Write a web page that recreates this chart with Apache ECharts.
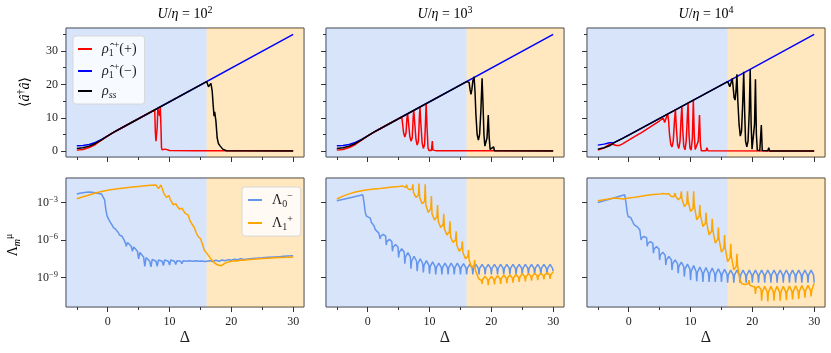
<!DOCTYPE html>
<html lang="en">
<head>
<meta charset="UTF-8">
<title>Kerr resonator populations</title>
<script src="https://cdn.jsdelivr.net/npm/echarts@6/dist/echarts.min.js"></script>
<style>
    * { margin: 0; padding: 0; }
    html, body { width: 831px; height: 353px; background: #fff; overflow: hidden; }
    #main { width: 831px; height: 353px; }
</style>
</head>
<body>
<div id="main"></div>
<script>
// tick values
var xMajor = [0, 10, 20, 30];
var xMinor = [-5, 5, 15, 25];
var nMajor = [0, 10, 20, 30];
var nMinor = [5, 15, 25, 35];
var lamTicks = [-9, -6, -3];          // log10 of the rate
var ratioExp = ['2', '3', '4'];       // U/eta = 10^k
var phaseEdge = 16;

// <a+a>, top row (panels U/eta = 1e2, 1e3, 1e4)
var pumpMinus1 = [[-5,1.6],[-4,1.7],[-3,2.0],[-2,2.6],[-1,3.5],[0,4.6],[1,5.7],[2,6.7],[30,35.0]];
var pumpMinus2 = [[-5,1.6],[-4,1.7],[-3,2.0],[-2,2.6],[-1,3.5],[0,4.6],[1,5.7],[2,6.7],[30,35.0]];
var pumpMinus3 = [[-5,1.8],[-4,2.1],[-3.1,2.5],[-2.3,2.6],[-1,3.8],[0,4.8],[16,20.85],[30,35.0]];

var pumpPlus1 = [[-5,0.3],[-4,0.5],[-3,1.1],[-2,2.0],[-1,3.3],[0,4.6],[1,5.7],[2,6.7],[7.6,12.35],[7.7,6],[7.8,3],[7.9,2.5],
    [8.0,7],[8.1,12.8],[8.3,13.0],[8.4,10.5],[8.5,13.3],[8.6,8],[8.7,1],[8.8,0.4],[9.0,0.3],[9.3,0.6],[9.6,0.3],[10,0.2],[14,0.15],[30,0.1]];
var pumpPlus2 = [[-5,0.3],[-4,0.5],[-3,1.1],[-2,2.0],[-1,3.3],[0,4.6],[1,5.7],[2,6.7],[5.5,10.24],[5.65,8],[5.8,5.5],[6.0,4.2],
    [6.2,5.5],[6.35,10],[6.45,11.2],[6.6,8.5],[6.8,4.5],[7.0,3.0],[7.2,4],[7.35,10],[7.45,12.2],[7.6,8.5],[7.8,3.5],[8.0,1.8],
    [8.2,3],[8.35,10],[8.45,13.2],[8.6,8],[8.8,2.5],[9.0,0.8],[9.2,2],[9.35,9],[9.45,14.2],[9.6,7],[9.75,1],[9.9,0.2],
    [10.3,0.2],[10.45,3.0],[10.55,0.3],[11,0.15],[30,0.1]];
var pumpPlus3 = [[-5,0.3],[-4,0.9],[-3.1,2.1],[-2.5,2.0],[-2,1.7],[-1.5,1.7],[-1,2.2],[0,3.3],[1,4.4],[2,5.5],[3,6.7],[4,7.9],
    [5,9.1],[5.6,9.9],[5.8,8.6],[5.95,8.1],[6.1,8.6],[6.3,11.2],[6.45,9],[6.6,5],[6.8,2],[7.0,1.3],[7.2,3],[7.4,9],[7.55,12.6],
    [7.7,7],[7.9,2],[8.1,0.8],[8.3,3],[8.45,9],[8.6,13.5],[8.75,6],[8.9,1.5],[9.1,0.4],[9.3,3],[9.45,9],[9.6,14.5],[9.75,5],
    [9.9,1],[10.1,0.3],[10.3,4],[10.45,15.4],[10.6,5],[10.75,0.5],[11.0,0.2],[11.25,3],[11.45,10.8],[11.6,2],[11.75,0.1],
    [12.5,0.1],[12.65,1.0],[12.8,0.1],[30,0.05]];

var steady1 = [[-5,0.8],[-4,1.0],[-3,1.5],[-2,2.3],[-1,3.4],[0,4.6],[1,5.7],[2,6.7],[16,20.85],[16.3,19.3],[16.5,19.5],
    [16.7,20.3],[16.9,18],[17.05,14],[17.2,10.5],[17.3,11.8],[17.4,12.0],[17.5,9],[17.7,4],[17.9,2.3],[18.2,1.5],[18.6,0.6],
    [19.2,0.1],[30,0.05]];
var steady2 = [[-5,0.8],[-4,1.0],[-3,1.5],[-2,2.3],[-1,3.4],[0,4.6],[1,5.7],[2,6.7],[16,20.85],[16.2,20.3],[16.4,20.6],
    [16.55,18.5],[16.7,17.0],[16.85,18.5],[17.0,21.0],[17.2,22.3],[17.35,18],[17.5,11],[17.7,5],[17.9,3.3],[18.1,5],[18.3,12],
    [18.5,21.8],[18.65,14],[18.8,5],[18.95,1.5],[19.15,1.2],[19.3,4],[19.5,10.8],[19.65,4],[19.8,0.5],[20.1,0.2],[20.35,1.3],
    [20.5,0.1],[30,0.05]];
var steady3 = [[-5,0.6],[-4,1.0],[-3,1.7],[-2.3,2.6],[-1,3.8],[0,4.8],[16,20.85],[16.2,20.0],[16.35,19.3],[16.55,20.5],
    [16.75,21.8],[16.9,19],[17.05,16],[17.2,15.3],[17.35,18],[17.5,23.0],[17.65,15],[17.85,8],[18.05,4.5],[18.25,6],[18.45,15],
    [18.6,23.8],[18.75,12],[18.9,3],[19.1,1.3],[19.3,3],[19.5,12],[19.65,24.5],[19.8,8],[19.95,0.6],[20.2,0.5],[20.35,8],
    [20.5,21.5],[20.65,5],[20.8,0.3],[21.2,0.2],[21.45,7.8],[21.6,0.2],[22.5,0.1],[22.65,1.0],[22.8,0.05],[30,0.05]];

// log10 of Lambda, bottom row
var lamMinus1 = [[-5,-2.33],[-4.5,-2.27],[-4,-2.22],[-3.5,-2.18],[-3,-2.17],[-2.5,-2.18],[-2,-2.22],[-1.5,-2.28],[-1,-2.33],
    [-0.7,-2.37],[-0.5,-2.8],[-0.3,-3.6],[-0.1,-4.1],[0.1,-4.3],[0.3,-4.5],[0.5,-4.55],[0.7,-4.8],[0.9,-5.0],[1.1,-5.1],
    [1.3,-5.15],[1.5,-5.2],[1.7,-5.4],[1.9,-5.6],[2.1,-5.65],[2.3,-5.7],[2.5,-5.85],[2.7,-6.05],[2.9,-6.3],[3.0,-6.5],
    [3.2,-6.2],[3.5,-6.25],[3.8,-6.5],[4.0,-6.9],[4.2,-6.55],[4.5,-6.65],[4.8,-6.9],[5.0,-7.5],[5.2,-7.0],[5.5,-7.1],
    [5.8,-7.35],[6.0,-8.1],[6.2,-7.4],[6.5,-7.45],[6.8,-7.7],[7.0,-8.15],[7.2,-7.55],[7.5,-7.5],[7.8,-7.7],[8.0,-8.1],
    [8.2,-7.6],[8.5,-7.55],[8.8,-7.7],[9.0,-8.05],[9.2,-7.6],[9.5,-7.55],[9.8,-7.7],[10.0,-8.0],[10.2,-7.6],[10.5,-7.55],
    [10.8,-7.7],[11.0,-7.95],[11.2,-7.65],[11.5,-7.6],[11.8,-7.7],[12.0,-7.9],[12.2,-7.65],[12.5,-7.6],[12.8,-7.7],[13.0,-7.85],
    [13.2,-7.65],[13.5,-7.6],[13.8,-7.7],[14.0,-7.85],[14.2,-7.65],[14.5,-7.62],[14.8,-7.7],[15.0,-7.8],[15.2,-7.67],
    [15.5,-7.65],[15.8,-7.72],[16.0,-7.75],[16.5,-7.65],[17,-7.72],[17.5,-7.62],[18,-7.7],[18.5,-7.6],[19,-7.66],[19.5,-7.57],
    [20,-7.62],[20.5,-7.54],[21,-7.58],[21.5,-7.5],[22,-7.55],[23,-7.5],[24,-7.45],[25,-7.42],[26,-7.38],[27,-7.35],
    [28,-7.32],[29,-7.28],[30,-7.25]];
var lamPlus1 = [[-5,-2.7],[-4,-2.55],[-3,-2.4],[-2,-2.25],[-1,-2.12],[0,-2.02],[1,-1.95],[2,-1.88],[3,-1.82],[4,-1.77],
    [5,-1.72],[6,-1.67],[7,-1.63],[7.8,-1.6],[8.0,-1.65],[8.2,-1.9],[8.4,-2.05],[8.6,-1.6],[8.75,-1.55],[8.9,-2.0],[9.1,-2.3],
    [9.3,-2.45],[9.5,-2.6],[9.7,-2.65],[9.9,-2.45],[10.1,-2.75],[10.4,-3.0],[10.6,-3.2],[10.8,-3.05],[11.0,-3.1],[11.3,-3.35],
    [11.6,-3.55],[11.8,-3.5],[12.0,-3.45],[12.3,-3.7],[12.6,-3.9],[12.8,-3.85],[13.0,-4.0],[13.3,-4.45],[13.6,-4.7],
    [13.8,-4.65],[14.0,-5.0],[14.3,-5.4],[14.6,-5.7],[14.8,-5.65],[15.0,-5.9],[15.3,-6.3],[15.6,-6.8],[15.8,-6.9],[16.0,-7.05],
    [16.3,-7.2],[16.6,-7.45],[16.9,-7.6],[17.2,-7.8],[17.5,-7.9],[17.8,-8.0],[18.1,-7.95],[18.4,-8.05],[18.7,-7.9],[19.0,-7.85],
    [19.5,-7.75],[20,-7.7],[20.5,-7.65],[21,-7.68],[21.5,-7.6],[22,-7.62],[23,-7.55],[24,-7.52],[25,-7.48],[26,-7.45],
    [27,-7.42],[28,-7.4],[29,-7.38],[30,-7.35]];

var lamMinus2 = [[-5,-2.87],[-3,-2.64],[-0.8,-2.39],[-0.6,-3.0],[-0.4,-3.8],[-0.2,-4.1],[0.1,-4.15],[0.4,-4.25],[0.6,-4.6],
    [0.8,-4.75],[1.0,-4.85],[1.2,-5.15],[1.5,-5.2],[1.8,-5.45],
    [2,-5.9],[2.1,-5.69],[2.5,-5.55],[2.9,-5.69],[3,-6.4],[3.1,-6.13],[3.5,-5.95],[3.9,-6.13],
    [4,-6.9],[4.1,-6.57],[4.5,-6.35],[4.9,-6.57],[5,-7.4],[5.1,-6.98],[5.5,-6.7],[5.9,-6.98],
    [6,-7.9],[6.1,-7.36],[6.5,-7.0],[6.9,-7.36],[7,-8.3],[7.1,-7.7],[7.5,-7.3],[7.9,-7.7],
    [8,-8.5],[8.1,-7.9],[8.5,-7.5],[8.9,-7.9],[9,-8.6],[9.1,-8.03],[9.5,-7.65],[9.9,-8.03],
    [10,-8.7],[10.1,-8.13],[10.5,-7.75],[10.9,-8.13],[11,-8.75],[11.1,-8.21],[11.5,-7.85],[11.9,-8.21],
    [12,-8.75],[12.1,-8.21],[12.5,-7.85],[12.9,-8.21],[13,-8.75],[13.1,-8.21],[13.5,-7.85],[13.9,-8.21],
    [14,-8.75],[14.1,-8.21],[14.5,-7.85],[14.9,-8.21],[15,-8.75],[15.1,-8.21],[15.5,-7.88],[15.9,-8.24],
    [16,-8.75],[16.1,-8.27],[16.5,-7.95],[16.9,-8.27],[17,-8.75],[17.1,-8.27],[17.5,-7.95],[17.9,-8.27],
    [18,-8.75],[18.1,-8.27],[18.5,-7.95],[18.9,-8.27],[19,-8.75],[19.1,-8.27],[19.5,-7.95],[19.9,-8.27],
    [20,-8.75],[20.1,-8.27],[20.5,-7.95],[20.9,-8.27],[21,-8.75],[21.1,-8.27],[21.5,-7.95],[21.9,-8.27],
    [22,-8.75],[22.1,-8.27],[22.5,-7.95],[22.9,-8.27],[23,-8.75],[23.1,-8.27],[23.5,-7.95],[23.9,-8.27],
    [24,-8.75],[24.1,-8.27],[24.5,-7.95],[24.9,-8.27],[25,-8.75],[25.1,-8.27],[25.5,-7.95],[25.9,-8.27],
    [26,-8.75],[26.1,-8.27],[26.5,-7.95],[26.9,-8.27],[27,-8.75],[27.1,-8.27],[27.5,-7.95],[27.9,-8.27],
    [28,-8.75],[28.1,-8.27],[28.5,-7.95],[28.9,-8.27],[29,-8.75],[29.1,-8.27],[29.5,-7.95],[29.9,-8.27],[30,-8.5]];
var lamPlus2 = [[-5,-2.73],[-4,-2.5],[-3,-2.32],[-2,-2.17],[-1,-2.07],[0,-1.99],[1,-1.93],[2,-1.88],[3,-1.82],[4,-1.77],
    [5,-1.72],[5.6,-1.68],[5.9,-1.72],[6.1,-1.8],
    [6.3,-1.6],[6.4,-1.85],[6.8,-2.0],[7.2,-1.9],[7.3,-1.55],[7.4,-2.2],[7.8,-2.6],[8.2,-2.4],
    [8.3,-1.5],[8.4,-2.6],[8.8,-3.1],[9.2,-2.9],[9.3,-1.55],[9.4,-3.2],[9.8,-3.8],[10.2,-3.5],
    [10.3,-2.5],[10.4,-3.9],[10.8,-4.4],[11.2,-4.15],[11.3,-3.2],[11.4,-4.5],[11.8,-5.0],[12.2,-4.75],
    [12.3,-3.9],[12.4,-5.1],[12.8,-5.6],[13.2,-5.35],[13.3,-4.5],[13.4,-5.75],[13.8,-6.2],[14.2,-6.0],
    [14.3,-5.3],[14.4,-6.4],[14.8,-6.9],[15.2,-6.65],[15.3,-6.1],[15.4,-7.0],[15.8,-7.5],[16.2,-7.3],
    [16.3,-6.8],[16.4,-7.6],[16.8,-8.2],[17.2,-8.0],[17.3,-7.6],[17.4,-8.4],[17.8,-8.9],[18.0,-9.1],
    [18.4,-9.25],[18.5,-9.5],[18.6,-9.14],[19.0,-8.9],[19.4,-9.18],[19.5,-9.6],[19.6,-9.18],[20.0,-8.9],
    [20.4,-9.16],[20.5,-9.55],[20.6,-9.13],[21.0,-8.85],[21.4,-9.1],[21.5,-9.5],[21.6,-9.08],[22.0,-8.8],
    [22.4,-9.06],[22.5,-9.45],[22.6,-9.06],[23.0,-8.8],[23.4,-9.04],[23.5,-9.4],[23.6,-9.01],[24.0,-8.75],
    [24.4,-8.99],[24.5,-9.35],[24.6,-8.96],[25.0,-8.7],[25.4,-8.94],[25.5,-9.3],[25.6,-8.94],[26.0,-8.7],
    [26.4,-8.92],[26.5,-9.25],[26.6,-8.89],[27.0,-8.65],[27.4,-8.87],[27.5,-9.2],[27.6,-8.87],[28.0,-8.65],
    [28.4,-8.85],[28.5,-9.15],[28.6,-8.82],[29.0,-8.6],[29.4,-8.8],[29.5,-9.1],[29.6,-8.78],[30.0,-8.55]];

var lamMinus3 = [[-5,-3.0],[-3,-2.73],[-0.65,-2.39],[-0.45,-3.0],[-0.25,-3.8],[-0.1,-4.12],[0.3,-4.2],[0.6,-4.3],[0.9,-4.8],
    [1.0,-4.92],[1.4,-4.95],[1.7,-5.05],[1.8,-5.2],
    [2,-6.0],[2.1,-5.83],[2.5,-5.72],[2.9,-5.83],[3,-6.5],[3.1,-6.27],[3.5,-6.12],[3.9,-6.27],
    [4,-7.05],[4.1,-6.73],[4.5,-6.52],[4.9,-6.73],[5,-7.6],[5.1,-7.22],[5.5,-6.97],[5.9,-7.22],
    [6,-8.0],[6.1,-7.59],[6.5,-7.32],[6.9,-7.59],[7,-8.4],[7.1,-7.91],[7.5,-7.59],[7.9,-7.91],
    [8,-8.65],[8.1,-8.12],[8.5,-7.77],[8.9,-8.12],[9,-8.92],[9.1,-8.33],[9.5,-7.93],[9.9,-8.33],
    [10,-9.2],[10.1,-8.51],[10.5,-8.05],[10.9,-8.51],[11,-9.3],[11.1,-8.61],[11.5,-8.15],[11.9,-8.61],
    [12,-9.35],[12.1,-8.66],[12.5,-8.2],[12.9,-8.66],[13,-9.35],[13.1,-8.69],[13.5,-8.25],[13.9,-8.69],
    [14,-9.35],[14.1,-8.72],[14.5,-8.3],[14.9,-8.72],[15,-9.35],[15.1,-8.75],[15.5,-8.35],[15.9,-8.75],
    [16,-9.4],[16.1,-8.8],[16.5,-8.4],[16.9,-8.8],[17,-9.4],[17.1,-8.8],[17.5,-8.4],[17.9,-8.8],
    [18,-9.4],[18.1,-8.8],[18.5,-8.4],[18.9,-8.8],[19,-9.4],[19.1,-8.8],[19.5,-8.4],[19.9,-8.8],
    [20,-9.4],[20.1,-8.8],[20.5,-8.4],[20.9,-8.8],[21,-9.4],[21.1,-8.8],[21.5,-8.4],[21.9,-8.8],
    [22,-9.4],[22.1,-8.8],[22.5,-8.4],[22.9,-8.8],[23,-9.4],[23.1,-8.8],[23.5,-8.4],[23.9,-8.8],
    [24,-9.4],[24.1,-8.8],[24.5,-8.4],[24.9,-8.8],[25,-9.4],[25.1,-8.8],[25.5,-8.4],[25.9,-8.8],
    [26,-9.4],[26.1,-8.8],[26.5,-8.4],[26.9,-8.8],[27,-9.4],[27.1,-8.8],[27.5,-8.4],[27.9,-8.8],
    [28,-9.4],[28.1,-8.8],[28.5,-8.4],[28.9,-8.8],[29,-9.4],[29.1,-8.8],[29.5,-8.4],[29.9,-8.8],[30,-9.4]];
var lamPlus3 = [[-5,-2.87],[-4,-2.78],[-3,-2.7],[-2.3,-2.65],[-1.5,-2.68],[-0.9,-2.73],[0,-2.65],[1,-2.58],[2,-2.5],[3,-2.42],
    [4,-2.37],[5,-2.33],[5.6,-2.29],[5.8,-2.4],[6.0,-2.32],[6.3,-2.45],[6.5,-2.3],[6.8,-2.5],[7.0,-2.65],[7.3,-2.55],
    [7.5,-2.25],[7.6,-2.5],[8.0,-2.79],[8.4,-2.6],[8.5,-2.12],[8.6,-2.7],[9.0,-3.32],[9.4,-3.1],
    [9.5,-2.12],[9.6,-2.9],[10.0,-3.72],[10.4,-3.5],[10.5,-2.12],[10.6,-3.2],[11.0,-4.39],[11.4,-4.1],
    [11.5,-3.2],[11.6,-4.0],[12.0,-4.92],[12.4,-4.65],[12.5,-3.8],[12.6,-4.6],[13.0,-5.59],[13.4,-5.3],
    [13.5,-4.3],[13.6,-5.2],[14.0,-6.25],[14.4,-5.95],[14.5,-5.0],[14.6,-5.9],[15.0,-6.97],[15.4,-6.65],
    [15.5,-5.6],[15.6,-6.6],[16.0,-7.72],[16.4,-7.4],[16.5,-6.3],[16.6,-7.3],[17.0,-8.39],[17.4,-8.1],
    [17.5,-7.1],[17.6,-8.0],[18.0,-9.19],[18.3,-9.5],[18.5,-9.6],[18.8,-9.55],[19.0,-9.7],[19.3,-9.5],
    [19.45,-9.2],[19.6,-9.6],[20.0,-9.7],[20.4,-9.75],[20.5,-10.3],[20.6,-9.85],[21.0,-9.7],[21.4,-9.95],
    [21.5,-10.85],[21.6,-10.16],[22.0,-9.7],[22.4,-10.16],[22.5,-10.9],[22.6,-10.16],[23.0,-9.7],[23.4,-10.16],
    [23.5,-10.85],[23.6,-10.16],[24.0,-9.7],[24.4,-10.16],[24.5,-10.85],[24.6,-10.16],[25.0,-9.7],[25.4,-10.14],
    [25.5,-10.8],[25.6,-10.14],[26.0,-9.68],[26.4,-10.12],[26.5,-10.75],[26.6,-10.12],[27.0,-9.66],[27.4,-10.1],
    [27.5,-10.7],[27.6,-10.1],[28.0,-9.64],[28.4,-10.06],[28.5,-10.6],[28.6,-10.06],[29.0,-9.62],[29.4,-10.02],
    [29.5,-10.5],[29.6,-10.0],[30.0,-9.45]];

var pumpMinus = [pumpMinus1, pumpMinus2, pumpMinus3];
var pumpPlus = [pumpPlus1, pumpPlus2, pumpPlus3];
var steady = [steady1, steady2, steady3];
var lamMinus = [lamMinus1, lamMinus2, lamMinus3];
var lamPlus = [lamPlus1, lamPlus2, lamPlus3];

var serif = '"Liberation Serif", "DejaVu Serif", serif';
var ink = '#1f1f1f';
var xRange = [-6.75, 31.75];
var nRange = [-1.76, 36.9];
var lamRange = [-11.35, -1.05];
var colLeft = [66, 326, 587];
var rowTop = [28, 178];

var mathRich = {
    i: { fontFamily: serif, fontStyle: 'italic', fontSize: 14, lineHeight: 18, color: ink },
    n: { fontFamily: serif, fontSize: 14, lineHeight: 18, color: ink },
    sp: { fontFamily: serif, fontSize: 10, lineHeight: 10, verticalAlign: 'top', color: ink },
    sb: { fontFamily: serif, fontStyle: 'italic', fontSize: 10, lineHeight: 10, verticalAlign: 'bottom', color: ink },
    sbn: { fontFamily: serif, fontSize: 10, lineHeight: 10, verticalAlign: 'bottom', color: ink }
};

var legendText = {
    'ρ̂₁⁺(+)': '{i|ρ̂}{sbn|1}{sp|+}{n|(+)}',
    'ρ̂₁⁺(−)': '{i|ρ̂}{sbn|1}{sp|+}{n|(−)}',
    'ρₛₛ': '{i|ρ}{sb|ss}',
    'Λ₀⁻': '{n|Λ}{sbn|0}{sp|−}',
    'Λ₁⁺': '{n|Λ}{sbn|1}{sp|+}'
};

var grids = [], xAxes = [], yAxes = [], series = [];

function shade() {
    return {
        silent: true,
        data: [
            [{ xAxis: xRange[0], itemStyle: { color: 'rgba(100,149,237,0.26)' } }, { xAxis: phaseEdge }],
            [{ xAxis: phaseEdge, itemStyle: { color: 'rgba(255,165,0,0.25)' } }, { xAxis: xRange[1] }]
        ]
    };
}

function lineSeries(name, data, color, xi, yi, withShade) {
    var s = {
        name: name, type: 'line', data: data, xAxisIndex: xi, yAxisIndex: yi,
        showSymbol: false, symbol: 'none', color: color,
        lineStyle: { width: 1.5, color: color }, animation: false, silent: true, z: 3
    };
    if (withShade) s.markArea = shade();
    return s;
}

// one axis: only ticks (and maybe labels), frame comes from the grid border
function tickAxis(p, range, pos, ticks, len, label) {
    return {
        gridIndex: p, type: 'value', min: range[0], max: range[1], position: pos,
        axisLine: { show: false, onZero: false }, splitLine: { show: false },
        axisTick: { customValues: ticks, length: len, lineStyle: { color: '#333' } },
        axisLabel: label || { show: false }
    };
}

for (var p = 0; p < 6; p++) {
    var row = Math.floor(p / 3), col = p % 3;
    grids.push({
        left: colLeft[col], top: rowTop[row], width: 238, height: 129,
        show: true, borderColor: '#3d3d3d', borderWidth: 1, backgroundColor: 'transparent'
    });
    var xi = xAxes.length;
    var xMain = tickAxis(p, xRange, 'bottom', xMajor, 5,
        { show: row === 1, customValues: xMajor, margin: 9, fontFamily: serif, fontSize: 12, color: ink });
    if (row === 1) {
        xMain.name = 'Δ';
        xMain.nameLocation = 'middle';
        xMain.nameGap = 23;
        xMain.nameTextStyle = { fontFamily: serif, fontSize: 16, color: ink };
    }
    xAxes.push(xMain);
    xAxes.push(tickAxis(p, xRange, 'bottom', xMinor, 3));
    var yi = yAxes.length;
    if (row === 0) {
        yAxes.push(tickAxis(p, nRange, 'left', nMajor, 5,
            { show: col === 0, customValues: nMajor, margin: 8, fontFamily: serif, fontSize: 12, color: ink }));
        yAxes.push(tickAxis(p, nRange, 'left', nMinor, 3));
        series.push(lineSeries('ρ̂₁⁺(−)', pumpMinus[col], '#0000ff', xi, yi, true));
        series.push(lineSeries('ρ̂₁⁺(+)', pumpPlus[col], '#ff0000', xi, yi, false));
        series.push(lineSeries('ρₛₛ', steady[col], '#000000', xi, yi, false));
    } else {
        yAxes.push(tickAxis(p, lamRange, 'left', lamTicks, 5, {
            show: col === 0, customValues: lamTicks, margin: 8,
            formatter: function (v) { return '{b|10}{e|−' + Math.abs(v) + '}'; },
            rich: {
                b: { fontFamily: serif, fontSize: 12, lineHeight: 15, color: ink },
                e: { fontFamily: serif, fontSize: 8.5, lineHeight: 9, verticalAlign: 'top', color: ink }
            }
        }));
        series.push(lineSeries('Λ₀⁻', lamMinus[col], '#6495ed', xi, yi, true));
        series.push(lineSeries('Λ₁⁺', lamPlus[col], '#ffa500', xi, yi, false));
    }
}

var legendBase = {
    orient: 'vertical', icon: 'rect', itemWidth: 14, itemHeight: 2,
    backgroundColor: 'rgba(255,255,255,0.82)', borderColor: '#d8d8d8', borderWidth: 1, borderRadius: 3,
    selectedMode: false,
    formatter: function (name) { return legendText[name]; },
    textStyle: { padding: [0, 0, 0, 5], rich: mathRich }
};

var legends = [
    Object.assign({}, legendBase, { data: ['ρ̂₁⁺(+)', 'ρ̂₁⁺(−)', 'ρₛₛ'], left: 73, top: 36, padding: [4, 8, 4, 5], itemGap: 4 }),
    Object.assign({}, legendBase, { data: ['Λ₀⁻', 'Λ₁⁺'], left: 242, top: 187, padding: [4, 8, 4, 6], itemGap: 5 })
];

var graphics = [];
for (var c = 0; c < 3; c++) {
    graphics.push({
        type: 'text', x: colLeft[c] + 119, y: 14,
        style: {
            text: '{i|U}{n|/}{i|η}{n| = 10}{sp|' + ratioExp[c] + '}',
            rich: mathRich, align: 'center', verticalAlign: 'middle'
        }
    });
}
graphics.push({
    type: 'text', x: 25, y: 92, rotation: Math.PI / 2,
    style: { text: '{n|⟨}{i|â}{sp|†}{i|â}{n|⟩}', rich: mathRich, align: 'center', verticalAlign: 'middle' }
});
graphics.push({
    type: 'text', x: 13, y: 245, rotation: Math.PI / 2,
    style: { text: '{n|Λ}{sb|m}{sp|μ}', rich: mathRich, align: 'center', verticalAlign: 'middle' }
});

var chart = echarts.init(document.getElementById('main'));
chart.setOption({
    animation: false,
    grid: grids,
    xAxis: xAxes,
    yAxis: yAxes,
    legend: legends,
    graphic: graphics,
    series: series
});
</script>
</body>
</html>
